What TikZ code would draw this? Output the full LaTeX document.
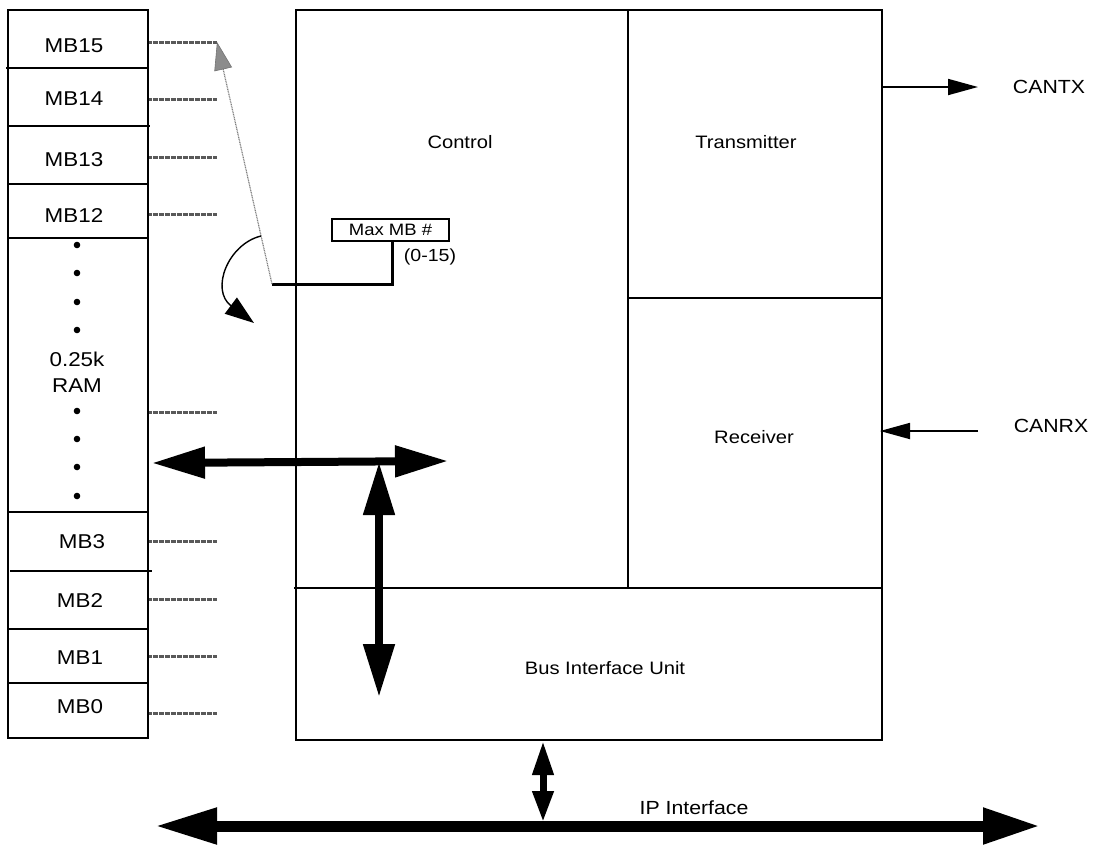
\documentclass[tikz,border=0pt]{standalone}
\usepackage{fontspec}
\setmainfont{Liberation Sans}
\newfontfamily\labfont[FakeStretch=1.12]{Liberation Sans}
\usetikzlibrary{arrows.meta}
\begin{document}
\begin{tikzpicture}[x=1pt,y=-1pt,
  box/.style={draw=black,line width=2.5pt},
  lbl/.style={inner sep=0pt,font=\labfont\fontsize{18}{20}\selectfont},
  mblbl/.style={inner sep=0pt,font=\labfont\fontsize{20}{22}\selectfont},
  mbline/.style={draw=black!65,line width=3pt,dash pattern=on 0.8pt off 0.4pt},
  bigarrow/.style={line width=8pt,{Triangle[length=53pt,width=30pt]}-{Triangle[length=53pt,width=30pt]}},
  busarrow/.style={line width=11pt,{Triangle[length=62pt,width=34pt]}-{Triangle[length=57pt,width=34pt]}},
  smallarrow/.style={line width=7pt,{Triangle[length=34pt,width=20pt]}-{Triangle[length=31pt,width=20pt]}},
  sigarrow/.style={line width=1.8pt,-{Triangle[length=30pt,width=16pt]}},
]
\useasboundingbox (0,0) rectangle (1094,844);
% RAM column
\draw[box] (8,10) rectangle (148,738);
\draw[box] (6,68) -- (148,68);
\draw[box] (8,126) -- (150,126);
\draw[box] (8,184) -- (148,184);
\draw[box] (8,238) -- (148,238);
\draw[box] (8,512) -- (148,512);
\draw[box] (10,571) -- (152,571);
\draw[box] (8,629) -- (148,629);
\draw[box] (8,683) -- (148,683);
\node[mblbl] (mb15) at (74,46) {MB15};
\node[mblbl] (mb14) at (74,99) {MB14};
\node[mblbl] (mb13) at (74,160) {MB13};
\node[mblbl] (mb12) at (74,216) {MB12};
\node[mblbl] (mb3) at (82,542) {MB3};
\node[mblbl] (mb2) at (80,601) {MB2};
\node[mblbl] (mb1) at (80,658) {MB1};
\node[mblbl] (mb0) at (80,707) {MB0};
\foreach \yy [count=\i] in {245,273,302,330,411,439,467,496}
  \fill (77,\yy) circle (3.3pt) coordinate (dot\i);
\node[mblbl] (k25) at (77,359) {0.25k};
\node[mblbl] (ram) at (77,386) {RAM};
% dotted lines
\foreach \yy [count=\i] in {42,99,157,214,412,541,599,656,713}{
  \coordinate (ls\i) at (149,\yy);
  \coordinate (le\i) at (217,\yy);
  \draw[mbline] (ls\i) -- (le\i);
}
% main block
\draw[box] (296,10) rectangle (882,740);
\draw[box] (628,10) -- (628,588);
\draw[box] (294,588) -- (882,588);
\draw[box] (628,298) -- (882,298);
\node[lbl] (control) at (460,142) {Control};
\node[lbl] (tx) at (746,142) {Transmitter};
\node[lbl] (rx) at (754,437) {Receiver};
\node[lbl] (biu) at (605,668) {Bus Interface Unit};
% Max MB box
\node[draw=black,line width=2.5pt,minimum width=117pt,minimum height=22pt,inner sep=0pt,font=\labfont\fontsize{16.5}{18}\selectfont] (maxmb) at (390.5,230) {Max MB \#};
\node[lbl,font=\labfont\fontsize{17.5}{19}\selectfont] (range) at (430,257) {(0-15)};
\coordinate (pivot) at (272,284);
\coordinate (corner) at (392,284);
\draw[line width=3pt] (pivot) -- (corner) -- (corner |- maxmb.south);
% gray pointer
\coordinate (ptip) at (217,42);
\draw[draw=black!50,line width=1.2pt,dash pattern=on 1pt off 0.7pt,-{Triangle[length=28pt,width=18pt,fill=black!45,color=black!55,line width=0.6pt]}] (pivot) -- (ptip);
% curved arrow
\coordinate (cstart) at (261,236);
\coordinate (ctip) at (254,323);
\draw[line width=1.4pt,-{Triangle[length=29pt,width=20pt]}] (cstart) .. controls (228,244) and (210,290) .. (ctip);
% thick arrows
\coordinate (hl) at (152,463);
\coordinate (hr) at (448,461);
\draw[bigarrow] (hl) -- (hr);
\coordinate (vt) at (379,462);
\coordinate (vb) at (379,697);
\draw[bigarrow] (vt) -- (vb);
% bus
\coordinate (bl) at (155,826);
\coordinate (br) at (1040,826);
\draw[busarrow] (bl) -- (br);
\coordinate (st) at (543,741);
\coordinate (sb) at (543,822);
\draw[smallarrow] (st) -- (sb);
\node[lbl,font=\labfont\fontsize{19}{21}\selectfont] (ip) at (694,808) {IP Interface};
% CAN signals
\coordinate (txs) at (882,87);
\coordinate (txe) at (978,87);
\draw[sigarrow] (txs) -- (txe);
\node[lbl,font=\labfont\fontsize{19}{21}\selectfont] (cantx) at (1049,87) {CANTX};
\coordinate (rxs) at (978,431);
\coordinate (rxe) at (880,431);
\draw[sigarrow] (rxs) -- (rxe);
\node[lbl,font=\labfont\fontsize{19}{21}\selectfont] (canrx) at (1051,426) {CANRX};
\end{tikzpicture}
\end{document}
